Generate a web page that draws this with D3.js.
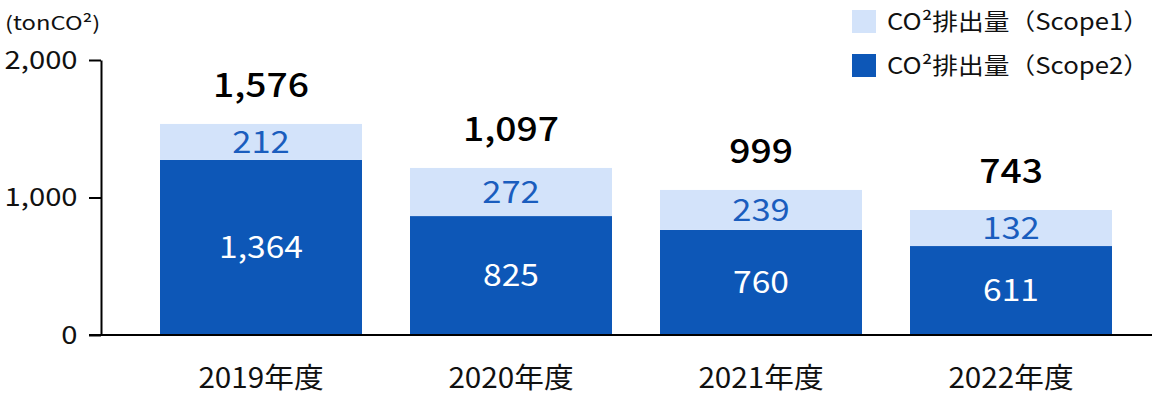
<!DOCTYPE html>
<meta charset="utf-8">
<style>
  body { margin: 0; background: #fff; }
  text { font-family: "Noto Sans CJK JP", "Noto Sans", sans-serif; }
</style>
<body>
<script src="https://cdn.jsdelivr.net/npm/d3@7"></script>
<script>

var width = 1152,
    height = 396;

// fiscal years
var years = ["2019年度", "2020年度", "2021年度", "2022年度"];

// bar heights as drawn in the picture (tonCO2)
var scope2 = [1273, 865, 764, 647];
var scope1 = [262, 350, 291, 262];

// printed labels
var scope2Labels = ["1,364", "825", "760", "611"];
var scope1Labels = ["212", "272", "239", "132"];
var totalLabels = ["1,576", "1,097", "999", "743"];

var yTicks = [0, 1000, 2000];
var legendNames = ["CO²排出量（Scope1）", "CO²排出量（Scope2）"];

var light = "#d3e3fa",
    dark = "#0d57b7",
    labelBlue = "#1a5dbe";

var svg = d3.select("body").append("svg")
    .attr("width", width)
    .attr("height", height);

var x = d3.scaleBand()
    .domain(years)
    .range([136, 1136])
    .paddingInner(0.192)
    .paddingOuter(0.096);

var y = d3.scaleLinear()
    .domain([0, 2000])
    .range([335, 60]);

var rows = years.map(function(d, i) {
  return {year: d, s2: scope2[i], s1: scope1[i], l2: scope2Labels[i], l1: scope1Labels[i], lt: totalLabels[i]};
});

// the source font is wider than what we have, stretch text a little
function place(px, py, sx) {
  return "translate(" + px + "," + py + ") scale(" + sx + ",1)";
}

var cx = d => x(d.year) + x.bandwidth() / 2;

// bars
var g = svg.selectAll("g.bar")
  .data(rows)
  .enter().append("g")
    .attr("class", "bar");

g.append("rect")
    .attr("x", d => x(d.year))
    .attr("width", x.bandwidth())
    .attr("y", d => y(d.s2))
    .attr("height", d => y(0) - y(d.s2))
    .style("fill", dark);

g.append("rect")
    .attr("x", d => x(d.year))
    .attr("width", x.bandwidth())
    .attr("y", d => y(d.s2 + d.s1))
    .attr("height", d => y(d.s2) - y(d.s2 + d.s1))
    .style("fill", light);

// values inside the bars
g.append("text")
    .attr("transform", d => place(cx(d), (y(0) + y(d.s2)) / 2, 1.12))
    .attr("dy", "0.36em")
    .attr("text-anchor", "middle")
    .style("font-size", "30px")
    .style("fill", "#fff")
    .text(d => d.l2);

g.append("text")
    .attr("transform", d => place(cx(d), (y(d.s2) + y(d.s2 + d.s1)) / 2, 1.15))
    .attr("dy", "0.36em")
    .attr("text-anchor", "middle")
    .style("font-size", "30px")
    .style("fill", labelBlue)
    .text(d => d.l1);

// totals
g.append("text")
    .attr("transform", d => place(cx(d), y(d.s2 + d.s1) - 27, 1.13))
    .attr("text-anchor", "middle")
    .style("font-size", "33px")
    .style("font-weight", 500)
    .style("fill", "#000")
    .text(d => d.lt);

// y axis
var yAxis = svg.append("g")
    .attr("transform", "translate(101,0)")
    .call(d3.axisLeft(y).tickValues(yTicks).tickFormat(d3.format(",")).tickSize(12).tickSizeOuter(0).tickPadding(8));

yAxis.select(".domain").attr("stroke", "#000").attr("stroke-width", 2);
yAxis.selectAll(".tick line").attr("stroke", "#000").attr("stroke-width", 2);
yAxis.selectAll(".tick text")
    .attr("transform", "scale(1.17,1)")
    .style("font-size", "25px")
    .style("fill", "#111")
    .style("font-family", "'Noto Sans CJK JP', sans-serif");

// baseline
svg.append("line")
    .attr("x1", 89)
    .attr("x2", width)
    .attr("y1", y(0))
    .attr("y2", y(0))
    .attr("stroke", "#000")
    .attr("stroke-width", 2);

// year labels
svg.selectAll("text.year")
  .data(years)
  .enter().append("text")
    .attr("class", "year")
    .attr("transform", d => place(x(d) + x.bandwidth() / 2, 388, 1.06))
    .attr("text-anchor", "middle")
    .style("font-size", "28px")
    .style("fill", "#111")
    .text(d => d);

// unit
svg.append("text")
    .attr("transform", place(5, 30, 1.25))
    .style("font-size", "19px")
    .style("fill", "#111")
    .text("(tonCO²)");

// legend
var lg = svg.selectAll("g.legend")
  .data(legendNames)
  .enter().append("g")
    .attr("class", "legend")
    .attr("transform", (d, i) => "translate(852," + (10 + i * 44) + ")");

lg.append("rect")
    .attr("width", 24)
    .attr("height", 23)
    .style("fill", (d, i) => i ? dark : light);

lg.append("text")
    .attr("transform", place(35, 20, 1.12))
    .style("font-size", "23px")
    .style("fill", "#111")
    .text(d => d);

</script>
